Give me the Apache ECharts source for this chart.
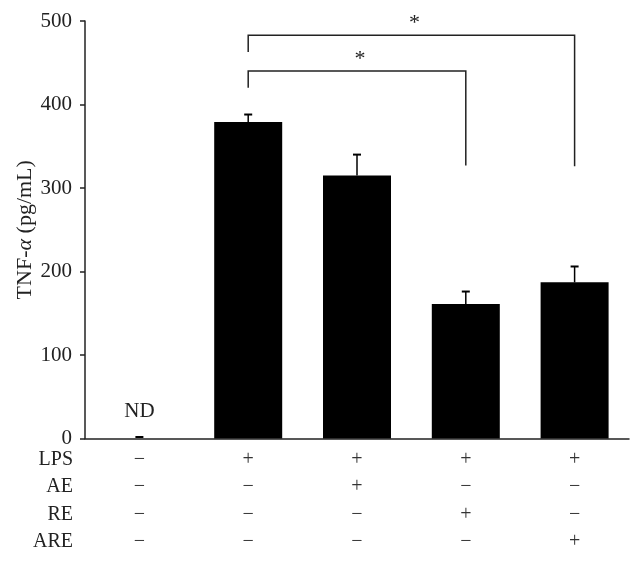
<!DOCTYPE html>
<html>
<head>
<meta charset="utf-8">
<script src="https://cdn.jsdelivr.net/npm/echarts@6/dist/echarts.min.js"></script>
<style>html,body{margin:0;padding:0;background:#fff}#c{width:644px;height:562px}</style>
</head>
<body>
<div id="c"></div>
<script>
var categories = ['Control', 'LPS', 'LPS+AE', 'LPS+RE', 'LPS+ARE'];
var means = [0, 379, 315, 161, 187];
var errUpper = [0, 388, 340, 176, 206];
var rowNames = ['LPS', 'AE', 'RE', 'ARE'];
var rowLPS = ['\u2212', '+', '+', '+', '+'];
var rowAE = ['\u2212', '\u2212', '+', '\u2212', '\u2212'];
var rowRE = ['\u2212', '\u2212', '\u2212', '+', '\u2212'];
var rowARE = ['\u2212', '\u2212', '\u2212', '\u2212', '+'];
var rows = [rowLPS, rowAE, rowRE, rowARE];
var rowOffsets = [21, 48.5, 76.5, 103.5];
var yTicks = [0, 100, 200, 300, 400, 500];
// brackets: [fromIndex, toIndex, barY, leftLegEnd, rightLegEnd, mark]
var brackets = [
  [1, 3, 440, 420, 327, '*'],
  [1, 4, 483, 463, 326, '*']
];
var serif = '"Liberation Serif", "DejaVu Serif", serif';

var chart = echarts.init(document.getElementById('c'));

var xAxes = [{
  type: 'category', data: categories, gridIndex: 0,
  axisLine: {lineStyle: {color: '#222', width: 1.5}},
  axisTick: {show: false}, axisLabel: {show: false}
}];
rows.forEach(function (r, i) {
  xAxes.push({
    type: 'category', data: categories, gridIndex: 0, position: 'bottom',
    offset: rowOffsets[i],
    axisLine: {show: false}, axisTick: {show: false},
    name: rowNames[i], nameLocation: 'start', nameGap: 12,
    nameTextStyle: {fontFamily: serif, fontSize: 20, color: '#222'},
    axisLabel: {
      margin: 0, verticalAlign: 'middle', fontFamily: serif, fontSize: 20, color: '#333',
      formatter: (function (row) { return function (v, idx) { return row[idx]; }; })(r)
    }
  });
});

chart.setOption({
  animation: false,
  backgroundColor: '#fff',
  grid: {left: 85, right: 15, top: 21, bottom: 123.5},
  xAxis: xAxes,
  yAxis: {
    type: 'value', min: 0, max: 500, interval: 100,
    name: 'TNF-{i|\u03b1} (pg/mL)', nameLocation: 'middle', nameGap: 49,
    nameMoveOverlap: false,
    nameTextStyle: {fontFamily: serif, fontSize: 22, color: '#222',
      rich: {i: {fontFamily: serif, fontSize: 22, fontStyle: 'italic', color: '#222'}}},
    axisLine: {show: true, lineStyle: {color: '#222', width: 1.5}},
    axisTick: {show: true, length: 5, lineStyle: {color: '#222', width: 1.5}},
    splitLine: {show: false},
    axisLabel: {margin: 13, fontFamily: serif, fontSize: 21, color: '#222',
      formatter: function (v) { return yTicks.indexOf(v) >= 0 ? String(v) : ''; }}
  },
  series: [
    {
      type: 'bar', data: means, barCategoryGap: '37.5%',
      itemStyle: {color: '#000'},
      label: {
        show: true, position: 'top', distance: 17,
        fontFamily: serif, fontSize: 21, color: '#222',
        formatter: function (p) { return p.value === 0 ? 'ND' : ''; }
      }
    },
    {
      type: 'custom', z: 5,
      data: categories.map(function (c, i) { return [i, means[i], errUpper[i]]; }),
      renderItem: function (params, api) {
        var base = api.coord([api.value(0), api.value(1)]);
        var top = api.coord([api.value(0), api.value(2)]);
        var hw = 4;
        var children = [];
        if (api.value(2) > api.value(1)) {
          children.push({type: 'line', shape: {x1: base[0], y1: base[1], x2: top[0], y2: top[1]},
            style: {stroke: '#000', lineWidth: 1.5}});
        }
        var dy = api.value(2) === 0 ? 1.5 : 0;
        children.push({type: 'line', shape: {x1: top[0] - hw, y1: top[1] - dy, x2: top[0] + hw, y2: top[1] - dy},
          style: {stroke: '#000', lineWidth: 2}});
        return {type: 'group', children: children};
      }
    },
    {
      type: 'custom', z: 6,
      data: brackets,
      renderItem: function (params, api) {
        var b = brackets[params.dataIndex];
        var p1 = api.coord([b[0], b[2]]);
        var p2 = api.coord([b[1], b[2]]);
        var l = api.coord([b[0], b[3]]);
        var r = api.coord([b[1], b[4]]);
        return {type: 'group', children: [
          {type: 'polyline', shape: {points: [[l[0], l[1]], [p1[0], p1[1]], [p2[0], p2[1]], [r[0], r[1]]]},
            style: {stroke: '#222', lineWidth: 1.5, fill: null}},
          {type: 'text', x: (p1[0] + p2[0]) / 2 + 3, y: p1[1] - 1,
            style: {text: b[5], font: '22px ' + serif, fill: '#222', align: 'center', verticalAlign: 'bottom'}}
        ]};
      }
    }
  ]
});
</script>
</body>
</html>
